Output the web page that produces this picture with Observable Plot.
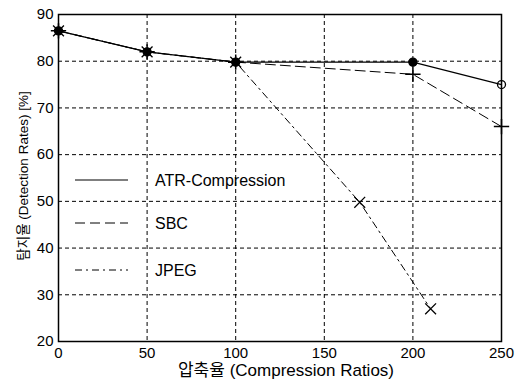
<!DOCTYPE html>
<html><head><meta charset="utf-8">
<script src="https://cdn.jsdelivr.net/npm/d3@7"></script>
<script src="https://cdn.jsdelivr.net/npm/@observablehq/plot@0.6"></script>
<style>
body{margin:0;background:#fff;}
#wrap{position:relative;width:518px;height:383px;font-family:"Liberation Sans",Arial,"Noto Sans CJK KR",sans-serif;}
#legend{position:absolute;left:0;top:0;pointer-events:none;}
</style></head>
<body><div id="wrap"></div>
<script>
const ratios = [0, 50, 100, 200, 250];
const atr = [86.5, 82, 79.8, 79.8, 75];
const sbcX = [0, 50, 100, 200, 250];
const sbc = [86.5, 82, 79.8, 77.2, 66];
const jpegX = [0, 50, 100, 170, 210];
const jpeg = [86.5, 82, 79.8, 49.8, 27];
const xTicks = [0, 50, 100, 150, 200, 250];
const yTicks = [20, 30, 40, 50, 60, 70, 80, 90];
const seriesNames = ["ATR-Compression", "SBC", "JPEG"];
const xLabel = "압축율 (Compression Ratios)";
const yLabel = "탐지율 (Detection Rates) [%]";

const atrData = ratios.map((x, i) => ({x, y: atr[i]}));
const sbcData = sbcX.map((x, i) => ({x, y: sbc[i]}));
const jpegData = jpegX.map((x, i) => ({x, y: jpeg[i]}));

const styles = [
  {dash: null, w: 1.2},
  {dash: "10,5", w: 1},
  {dash: "7,4,2,4", w: 1}
];

const plot = Plot.plot({
  width: 518, height: 383,
  marginLeft: 58, marginRight: 17, marginTop: 14, marginBottom: 42,
  style: {fontFamily: '"Liberation Sans", Arial, "Noto Sans CJK KR", sans-serif', fontSize: "15px", color: "#000", background: "#fff"},
  x: {domain: [0, 250], ticks: xTicks},
  y: {domain: [20, 90], ticks: yTicks},
  marks: [
    Plot.gridX(xTicks.slice(1, -1), {stroke: "#000", strokeOpacity: 1, strokeDasharray: "4,3", strokeWidth: 1}),
    Plot.gridY(yTicks.slice(1, -1), {stroke: "#000", strokeOpacity: 1, strokeDasharray: "4,3", strokeWidth: 1}),
    Plot.axisX({ticks: xTicks, tickSize: 0, tickPadding: 6, label: null, fontSize: 15}),
    Plot.axisY({ticks: yTicks, tickSize: 0, tickPadding: 5, label: null, fontSize: 15}),
    Plot.line(atrData, {x: "x", y: "y", stroke: "#000", strokeWidth: styles[0].w}),
    Plot.line(sbcData, {x: "x", y: "y", stroke: "#000", strokeWidth: styles[1].w, strokeDasharray: styles[1].dash}),
    Plot.line(jpegData, {x: "x", y: "y", stroke: "#000", strokeWidth: styles[2].w, strokeDasharray: styles[2].dash}),
    Plot.dot(atrData, {x: "x", y: "y", r: 4, symbol: "circle", stroke: "#000", strokeWidth: 1.3, fill: d => d.x < 250 ? "#000" : "none"}),
    Plot.dot(sbcData, {x: "x", y: "y", r: 5, symbol: "plus", stroke: "#000", strokeWidth: 1.5}),
    Plot.dot(jpegData, {x: "x", y: "y", r: 5, symbol: "times", stroke: "#000", strokeWidth: 1.3}),
    Plot.frame({stroke: "#000", strokeWidth: 1.5})
  ]
});
const wrap = document.getElementById("wrap");
wrap.appendChild(plot);

// overlay: axis titles and in-plot legend (no box)
const ns = "http://www.w3.org/2000/svg";
const leg = document.createElementNS(ns, "svg");
leg.setAttribute("id", "legend");
leg.setAttribute("width", 518);
leg.setAttribute("height", 383);
const ff = '"Liberation Sans", Arial, "Noto Sans CJK KR", sans-serif';
function txt(s, attrs) {
  const t = document.createElementNS(ns, "text");
  for (const k in attrs) t.setAttribute(k, attrs[k]);
  t.setAttribute("font-family", ff);
  t.textContent = s;
  leg.appendChild(t);
  return t;
}
txt(xLabel, {x: 286, y: 376, "text-anchor": "middle", "font-size": "17px"});
txt(yLabel, {x: 0, y: 0, "text-anchor": "middle", "font-size": "13.5px", transform: "translate(28,176) rotate(-90)"});
const rowsY = [180, 223, 270];
seriesNames.forEach((name, i) => {
  const l = document.createElementNS(ns, "line");
  l.setAttribute("x1", 75); l.setAttribute("x2", 128);
  l.setAttribute("y1", rowsY[i]); l.setAttribute("y2", rowsY[i]);
  l.setAttribute("stroke", "#000");
  l.setAttribute("stroke-width", styles[i].w);
  if (styles[i].dash) l.setAttribute("stroke-dasharray", styles[i].dash);
  leg.appendChild(l);
  txt(name, {x: 155, y: rowsY[i], dy: "0.35em", "font-size": "16px"});
});
wrap.appendChild(leg);
</script></body></html>
